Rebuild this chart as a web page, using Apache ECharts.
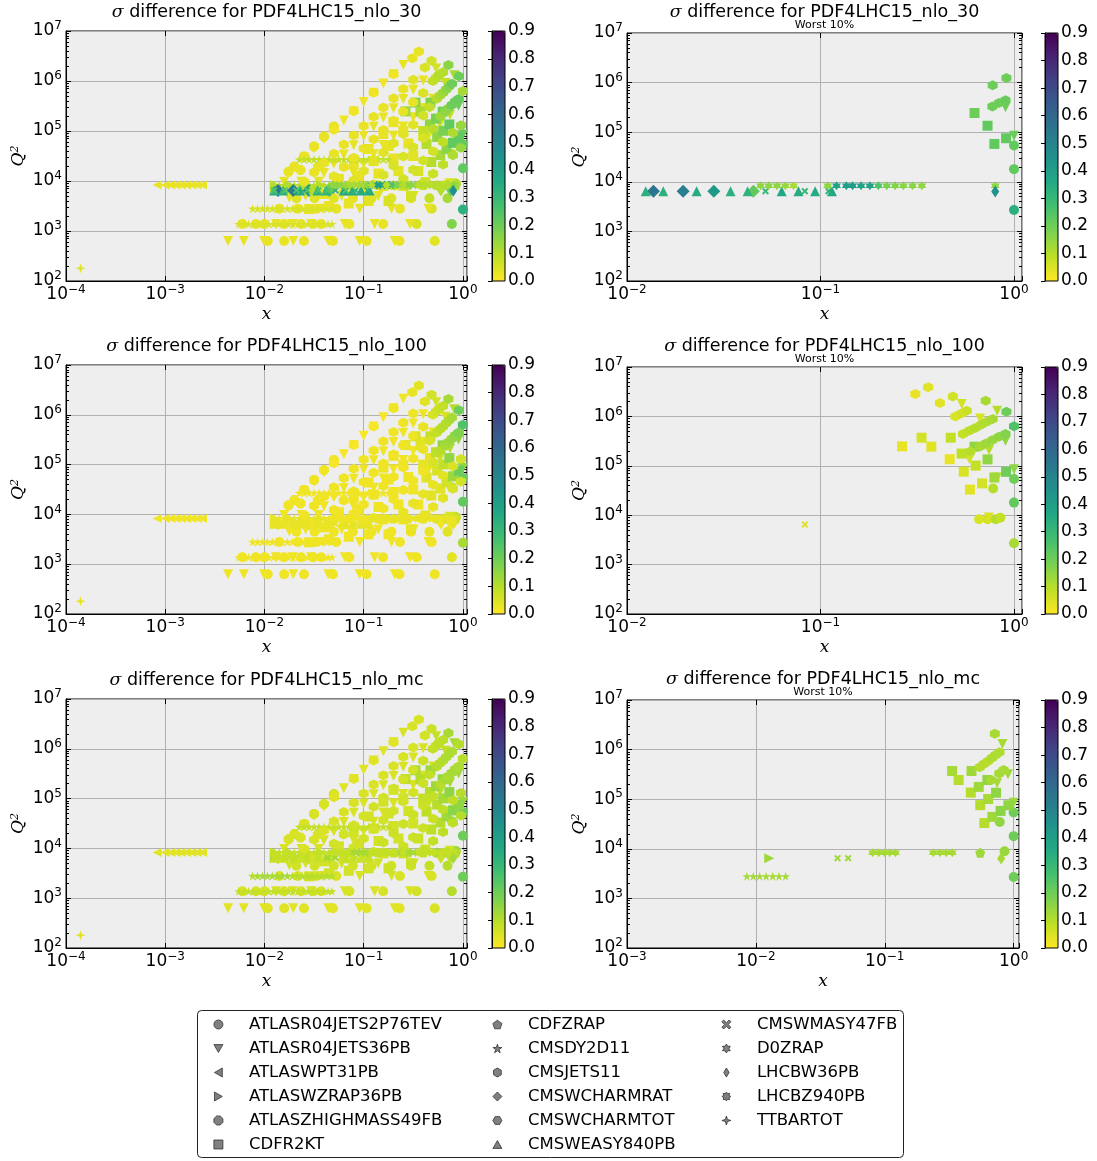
<!DOCTYPE html>
<html lang="en">
<head>
<meta charset="UTF-8">
<title>sigma difference</title>
<script src="https://cdn.jsdelivr.net/npm/echarts@6/dist/echarts.min.js"></script>
<style>
  body { margin: 0; background: #fff; }
  #chart { width: 1097px; height: 1161px; }
</style>
</head>
<body>
<div id="chart"></div>
<script>
// rows of the full-sample panels: [x, Q2, diff nlo_30, diff nlo_100, diff nlo_mc]
var ATLASR04JETS2P76TEV = [
  [0.0108, 630, .03, .02, .04], [0.0158, 630, .03, .02, .04], [0.025, 630, .03, .02, .04], [0.049, 630, .03, .02, .04],
  [0.107, 630, .03, .02, .04], [0.23, 630, .03, .02, .04], [0.52, 630, .04, .02, .05],
  [0.006, 1380, .03, .02, .05], [0.0082, 1380, .03, .02, .05], [0.01, 1380, .03, .02, .05], [0.0158, 1380, .03, .02, .05],
  [0.0234, 1380, .03, .02, .05], [0.0308, 1380, .03, .02, .05], [0.0373, 1380, .03, .02, .05], [0.0718, 1380, .03, .02, .05],
  [0.157, 1380, .03, .02, .05], [0.342, 1380, .05, .02, .06], [0.774, 1380, .17, .04, .10],
  [0.0141, 2800, .03, .02, .05], [0.0217, 2800, .03, .02, .05], [0.0333, 2800, .03, .02, .05], [0.053, 2800, .03, .02, .05],
  [0.232, 2800, .03, .02, .05], [0.485, 2800, .05, .02, .05],
  [0.021, 4500, .04, .02, .06], [0.032, 4500, .04, .02, .06], [0.05, 4500, .04, .02, .06], [0.078, 4500, .04, .02, .06],
  [0.12, 4500, .04, .02, .06], [0.19, 4500, .04, .02, .06], [0.3, 4500, .04, .02, .06], [0.46, 4500, .08, .03, .08],
  [0.7, 4500, .12, .04, .10],
  [1.0, 2700, .33, .12, .20], [1.0, 18000, .22, .22, .20], [1.0, 54000, .22, .20, .20], [0.78, 34700, .08, .10, .15],
  [0.66, 8300, .06, .05, .08], [0.731, 8300, .07, .06, .09], [0.805, 8300, .10, .10, .10], [0.85, 8900, .09, .08, .14]
];
var ATLASR04JETS36PB = [
  [0.0043, 630, .03, .02, .04], [0.0062, 630, .03, .02, .04], [0.0099, 630, .03, .02, .04], [0.0195, 630, .03, .02, .04],
  [0.044, 630, .03, .02, .04], [0.091, 630, .03, .02, .04], [0.205, 630, .03, .02, .04],
  [0.0131, 1380, .03, .02, .05], [0.0193, 1380, .03, .02, .05], [0.0296, 1380, .03, .02, .05], [0.0646, 1380, .03, .02, .05],
  [0.129, 1380, .03, .02, .05], [0.293, 1380, .03, .02, .05],
  [0.039, 2800, .03, .02, .05], [0.0912, 2800, .03, .02, .05], [0.191, 2800, .03, .02, .05], [0.449, 2800, .03, .02, .05],
  [0.0178, 4600, .04, .02, .06], [0.026, 5000, .04, .02, .06], [0.06, 5000, .04, .02, .06], [0.14, 5000, .04, .02, .06],
  [0.32, 5000, .04, .02, .06],
  [0.0158, 9700, .03, .02, .05], [0.0236, 9700, .03, .02, .05], [0.0352, 9700, .03, .02, .05],
  [0.0251, 29500, .02, .01, .04], [0.0316, 45200, .02, .01, .04], [0.0398, 69200, .02, .01, .04], [0.0501, 106000, .02, .01, .04],
  [0.0631, 162000, .02, .01, .04], [0.0794, 248000, .02, .01, .04], [0.1, 380000, .02, .01, .04], [0.126, 582000, .02, .01, .04],
  [0.158, 891000, .02, .01, .04], [0.2, 1360000, .03, .02, .05], [0.251, 2090000, .03, .02, .05],
  [0.0398, 14500, .03, .02, .05], [0.0501, 22100, .03, .02, .05], [0.0631, 33900, .03, .02, .05], [0.0794, 51900, .03, .02, .05],
  [0.1, 79400, .03, .02, .05], [0.126, 122000, .03, .02, .05], [0.158, 186000, .03, .02, .05], [0.2, 285000, .03, .02, .05],
  [0.251, 437000, .03, .02, .05], [0.316, 668000, .03, .02, .05], [0.398, 1020000, .03, .02, .05], [0.537, 1780000, .06, .06, .08],
  [0.0794, 14600, .03, .02, .05], [0.1, 22400, .03, .02, .05], [0.126, 34300, .03, .02, .05], [0.158, 52500, .03, .02, .05],
  [0.2, 80400, .03, .02, .05], [0.251, 123000, .03, .02, .05], [0.316, 188000, .03, .02, .05], [0.398, 288000, .03, .02, .05],
  [0.501, 442000, .03, .02, .05], [0.668, 910000, .08, .05, .08], [0.818, 1300000, .12, .10, .12],
  [0.2, 25000, .04, .02, .06], [0.3, 45000, .04, .02, .06], [0.45, 80000, .05, .03, .07], [0.589, 136000, .05, .06, .08],
  [0.743, 210000, .08, .10, .12], [0.904, 320000, .20, .15, .13], [1.0, 85000, .20, .15, .13], [0.818, 58000, .10, .10, .10],
  [0.74, 9000, .05, .05, .06]
];
var ATLASWPT31PB = [
  [0.00083, 8300, .03, .02, .04], [0.001, 8300, .03, .02, .04], [0.00114, 8300, .03, .02, .04], [0.00129, 8300, .03, .02, .04],
  [0.00145, 8300, .03, .02, .04], [0.00164, 8300, .03, .02, .04], [0.00186, 8300, .03, .02, .04], [0.0021, 8300, .03, .02, .04],
  [0.00238, 8300, .03, .02, .04]
];
var ATLASWZRAP36PB = [
  [0.0127, 6464, .10, .03, .13], [0.017, 6464, .10, .03, .08], [0.024, 6464, .10, .03, .08], [0.034, 6464, .10, .03, .08],
  [0.048, 6464, .10, .03, .08], [0.0127, 8281, .10, .03, .08], [0.018, 8281, .10, .03, .08], [0.026, 8281, .10, .03, .08],
  [0.037, 8281, .10, .03, .08]
];
var ATLASZHIGHMASS49FB = [
  [0.0175, 15300, .03, .02, .05], [0.0231, 16600, .03, .02, .05], [0.0346, 19300, .03, .02, .05], [0.02, 19500, .03, .02, .05],
  [0.0251, 30900, .03, .02, .05], [0.0316, 49000, .03, .02, .05], [0.0398, 77600, .03, .02, .05], [0.0501, 123000, .03, .02, .05]
];
var CDFR2KT = [
  [0.264, 247000, .14, .03, .09], [0.333, 370000, .17, .06, .12], [0.374, 244000, .12, .04, .10], [0.471, 370000, .17, .08, .13],
  [0.465, 136000, .15, .03, .10], [0.536, 177000, .18, .09, .13], [0.55, 76000, .15, .05, .10], [0.592, 33000, .12, .04, .10],
  [0.625, 244000, .20, .15, .15], [0.634, 101000, .18, .08, .12], [0.684, 44000, .16, .06, .13], [0.73, 135000, .22, .15, .15],
  [0.792, 58000, .22, .13, .16], [0.91, 75500, .22, .20, .15],
  [0.0282, 2750, .03, .02, .06], [0.0398, 5500, .03, .02, .06], [0.0562, 11000, .03, .02, .06], [0.0794, 21900, .03, .02, .06],
  [0.112, 43700, .03, .02, .06], [0.158, 87100, .03, .02, .06], [0.2, 150000, .03, .02, .06],
  [0.0447, 3160, .03, .02, .06], [0.0631, 6310, .03, .02, .06], [0.0891, 12600, .03, .02, .06], [0.126, 25100, .03, .02, .06],
  [0.178, 50100, .03, .02, .06], [0.251, 100000, .03, .02, .06],
  [0.0708, 3550, .03, .02, .06], [0.1, 7080, .03, .02, .06], [0.141, 14100, .03, .02, .06], [0.2, 28200, .03, .02, .06],
  [0.282, 56200, .03, .02, .06], [0.398, 100000, .08, .03, .08],
  [0.112, 3980, .04, .02, .06], [0.158, 7940, .04, .02, .06], [0.224, 15800, .04, .02, .06], [0.316, 31600, .04, .02, .06],
  [0.43, 55000, .10, .04, .09],
  [0.178, 3980, .05, .02, .07], [0.251, 7940, .05, .02, .07], [0.355, 15800, .05, .02, .07], [0.48, 24000, .10, .04, .09],
  [0.3, 5000, .06, .03, .07], [0.42, 9500, .06, .03, .07]
];
var CDFZRAP = [
  [0.05, 8281, .08, .03, .08], [0.07, 8281, .08, .03, .08], [0.1, 8281, .08, .03, .08], [0.14, 8281, .08, .03, .08],
  [0.2, 8281, .08, .03, .08], [0.28, 8281, .08, .03, .08], [0.4, 8281, .08, .03, .08], [0.55, 8281, .10, .05, .13],
  [0.7, 8281, .12, .06, .10], [0.85, 8281, .12, .06, .10]
];
var CMSDY2D11 = [
  [0.0055, 1380, .05, .02, .08], [0.00617, 1380, .05, .02, .08], [0.00692, 1380, .05, .02, .08], [0.00776, 1380, .05, .02, .08],
  [0.00871, 1380, .05, .02, .08], [0.00977, 1380, .05, .02, .08], [0.011, 1380, .05, .02, .08], [0.0123, 1380, .05, .02, .08],
  [0.0138, 1380, .05, .02, .08], [0.0155, 1380, .05, .02, .08], [0.0174, 1380, .05, .02, .08], [0.0195, 1380, .05, .02, .08],
  [0.0219, 1380, .05, .02, .08], [0.0245, 1380, .05, .02, .08], [0.0275, 1380, .05, .02, .08], [0.0309, 1380, .05, .02, .08],
  [0.0347, 1380, .05, .02, .08], [0.0389, 1380, .05, .02, .08], [0.0437, 1380, .05, .02, .08], [0.0479, 1380, .05, .02, .08],
  [0.00759, 2800, .05, .02, .10], [0.00851, 2800, .05, .02, .12], [0.00955, 2800, .05, .02, .12], [0.0107, 2800, .05, .02, .12],
  [0.012, 2800, .05, .02, .12], [0.0135, 2800, .05, .02, .12], [0.0151, 2800, .05, .02, .12], [0.017, 2800, .05, .02, .12],
  [0.0191, 2800, .05, .02, .10], [0.0214, 2800, .05, .02, .10], [0.024, 2800, .05, .02, .10], [0.0269, 2800, .05, .02, .10],
  [0.0302, 2800, .05, .02, .10], [0.0339, 2800, .05, .02, .10], [0.038, 2800, .05, .02, .10], [0.0427, 2800, .05, .02, .10],
  [0.0479, 2800, .05, .02, .10],
  [0.0224, 27000, .08, .02, .08], [0.0251, 27000, .08, .02, .08], [0.0282, 27000, .08, .02, .08], [0.0316, 27000, .08, .02, .08],
  [0.0355, 27000, .08, .02, .08], [0.0398, 27000, .08, .02, .08], [0.0447, 27000, .08, .02, .08], [0.0501, 27000, .08, .02, .08],
  [0.0562, 27000, .08, .02, .08], [0.0631, 27000, .08, .02, .08], [0.0708, 27000, .08, .02, .08], [0.0794, 27000, .08, .02, .08],
  [0.0891, 27000, .08, .02, .08], [0.1, 27000, .08, .02, .08], [0.112, 27000, .08, .02, .08], [0.126, 27000, .08, .02, .08],
  [0.141, 27000, .08, .02, .08], [0.158, 27000, .08, .02, .08], [0.178, 27000, .08, .02, .08],
  [0.0126, 8300, .10, .03, .08], [0.0141, 8300, .10, .03, .08], [0.0158, 8300, .10, .03, .08], [0.0178, 8300, .10, .03, .08],
  [0.02, 8300, .10, .03, .08], [0.0224, 8300, .10, .03, .08], [0.0251, 8300, .10, .03, .08], [0.0282, 8300, .10, .03, .08],
  [0.0316, 8300, .10, .03, .08], [0.0355, 8300, .10, .03, .08], [0.0398, 8300, .10, .03, .08], [0.0447, 8300, .10, .03, .08]
];
var CMSJETS11 = [
  [0.0501, 106000, .02, .01, .04], [0.0794, 248000, .02, .01, .04], [0.126, 582000, .02, .01, .04], [0.2, 1360000, .02, .02, .04],
  [0.309, 2840000, .03, .03, .05], [0.36, 3870000, .03, .04, .05],
  [0.0251, 9770, .03, .02, .05], [0.0316, 15000, .03, .02, .05], [0.0398, 22900, .03, .02, .05], [0.0501, 35100, .03, .02, .05],
  [0.0631, 53700, .03, .02, .05], [0.0794, 82200, .03, .02, .05], [0.1, 126000, .03, .02, .05], [0.126, 193000, .03, .02, .05],
  [0.158, 295000, .03, .02, .05], [0.2, 452000, .03, .02, .05], [0.251, 692000, .03, .02, .05], [0.316, 1060000, .04, .02, .05],
  [0.414, 1860000, .05, .04, .06], [0.483, 2540000, .06, .06, .07],
  [0.0501, 12400, .03, .02, .06], [0.0631, 19100, .03, .02, .06], [0.0794, 29200, .03, .02, .06], [0.1, 44700, .03, .02, .06],
  [0.126, 68400, .03, .02, .06], [0.158, 105000, .03, .02, .06], [0.2, 160000, .03, .02, .06], [0.251, 245000, .03, .02, .06],
  [0.316, 376000, .03, .02, .06], [0.398, 575000, .05, .03, .07], [0.498, 1000000, .08, .05, .08], [0.535, 1150000, .09, .06, .08],
  [0.57, 1300000, .10, .07, .09], [0.631, 1500000, .10, .08, .09], [0.714, 2080000, .16, .12, .12],
  [0.0794, 10400, .04, .02, .06], [0.1, 15800, .04, .02, .06], [0.126, 24300, .04, .02, .06], [0.158, 37200, .04, .02, .06],
  [0.2, 56900, .04, .02, .06], [0.251, 87100, .04, .02, .06], [0.316, 133000, .04, .02, .06], [0.398, 204000, .06, .03, .07],
  [0.46, 300000, .08, .05, .08], [0.545, 440000, .10, .08, .10], [0.587, 512000, .12, .09, .10], [0.63, 580000, .13, .10, .10],
  [0.677, 676000, .15, .10, .11], [0.723, 776000, .17, .11, .11], [0.776, 883000, .20, .12, .11], [0.914, 1240000, .20, .20, .10],
  [0.126, 8610, .05, .02, .07], [0.158, 13200, .05, .02, .07], [0.2, 20200, .05, .02, .07], [0.251, 30900, .05, .02, .07],
  [0.316, 47300, .05, .02, .07], [0.398, 72400, .05, .02, .07], [0.501, 111000, .10, .05, .08], [0.594, 195000, .13, .10, .10],
  [0.668, 245000, .15, .12, .12], [0.716, 284000, .16, .13, .11], [0.773, 331000, .20, .14, .12], [0.836, 387000, .20, .15, .12],
  [0.904, 439000, .21, .17, .11], [1.0, 630000, .12, .25, .10],
  [0.251, 11000, .06, .03, .07], [0.316, 16800, .06, .03, .07], [0.398, 25700, .06, .03, .07], [0.501, 39400, .06, .03, .07],
  [0.631, 60300, .09, .04, .09], [0.794, 92300, .11, .05, .09], [0.955, 130000, .14, .06, .10],
  [0.398, 9120, .07, .03, .08], [0.501, 14000, .07, .03, .08], [0.631, 21400, .09, .04, .09], [0.794, 32700, .11, .05, .09],
  [0.955, 46000, .14, .06, .10]
];
var CMSWCHARMRAT = [
  [0.0137, 6464, .55, .03, .08], [0.0195, 6464, .52, .03, .08], [0.0281, 6464, .42, .03, .08], [0.045, 6464, .22, .03, .08]
];
var CMSWCHARMTOT = [
  [0.03, 6464, .10, .02, .06]
];
var CMSWEASY840PB = [
  [0.0125, 6464, .33, .03, .07], [0.0154, 6464, .33, .03, .07], [0.0229, 6464, .35, .03, .07], [0.0343, 6464, .33, .03, .07],
  [0.042, 6464, .32, .03, .07], [0.063, 6464, .36, .03, .07], [0.0769, 6464, .35, .03, .07], [0.0938, 6464, .35, .03, .07],
  [0.1146, 6464, .36, .03, .07]
];
var CMSWMASY47FB = [
  [0.0125, 6464, .25, .03, .08], [0.016, 6464, .25, .03, .08], [0.021, 6464, .25, .03, .08], [0.027, 6464, .25, .03, .08],
  [0.035, 6464, .25, .03, .08], [0.043, 6464, .25, .03, .13], [0.052, 6464, .30, .03, .13], [0.066, 6464, .25, .03, .08],
  [0.083, 6464, .30, .04, .08], [0.11, 6464, .32, .03, .08]
];
var D0ZRAP = [
  [0.049, 8281, .15, .02, .08], [0.054, 8281, .15, .02, .08], [0.0596, 8281, .15, .02, .08], [0.0658, 8281, .14, .02, .08],
  [0.0726, 8281, .12, .02, .08], [0.0805, 8281, .12, .02, .12], [0.0898, 8281, .12, .02, .12], [0.0996, 8281, .12, .02, .12],
  [0.109, 8281, .15, .02, .12], [0.121, 8281, .38, .03, .12], [0.136, 8281, .40, .03, .08], [0.1465, 8281, .40, .03, .08],
  [0.162, 8281, .38, .03, .08], [0.18, 8281, .38, .03, .08], [0.199, 8281, .25, .03, .08], [0.22, 8281, .18, .03, .08],
  [0.238, 8281, .17, .03, .12], [0.268, 8281, .16, .03, .12], [0.299, 8281, .16, .03, .12], [0.334, 8281, .15, .03, .12],
  [0.37, 8281, .10, .03, .08], [0.41, 8281, .10, .03, .08], [0.46, 8281, .10, .03, .08], [0.52, 8281, .10, .03, .08],
  [0.6, 8281, .10, .03, .08], [0.7, 8281, .10, .03, .08], [0.8, 8281, .15, .03, .08]
];
var LHCBW36PB = [
  [0.6, 6464, .10, .02, .07], [0.75, 6400, .20, .02, .08], [0.8, 6400, .45, .03, .12]
];
var LHCBZ940PB = [
  [0.12, 8281, .10, .03, .08], [0.17, 8281, .10, .03, .08], [0.25, 8281, .10, .03, .08], [0.36, 8281, .10, .03, .08],
  [0.5, 8281, .10, .03, .08], [0.7, 8281, .10, .03, .08]
];
var TTBARTOT = [
  [0.00014, 180, .04, .03, .04]
];

// worst 10% panels: [dataset, x, Q2, diff]
var worst30 = [
  ['CMSWEASY840PB', 0.0125, 6464, .33], ['CMSWEASY840PB', 0.0154, 6464, .33], ['CMSWEASY840PB', 0.0229, 6464, .35],
  ['CMSWEASY840PB', 0.0343, 6464, .33], ['CMSWEASY840PB', 0.042, 6464, .32], ['CMSWEASY840PB', 0.063, 6464, .36],
  ['CMSWEASY840PB', 0.0769, 6464, .35], ['CMSWEASY840PB', 0.0938, 6464, .35], ['CMSWEASY840PB', 0.1146, 6464, .36],
  ['CMSWCHARMRAT', 0.0137, 6464, .55], ['CMSWCHARMRAT', 0.0195, 6464, .52], ['CMSWCHARMRAT', 0.0281, 6464, .42],
  ['CMSWCHARMRAT', 0.045, 6464, .22],
  ['CMSWMASY47FB', 0.052, 6464, .30], ['CMSWMASY47FB', 0.083, 6464, .30], ['CMSWMASY47FB', 0.11, 6464, .32],
  ['D0ZRAP', 0.049, 8281, .15], ['D0ZRAP', 0.054, 8281, .15], ['D0ZRAP', 0.0596, 8281, .15], ['D0ZRAP', 0.0658, 8281, .14],
  ['D0ZRAP', 0.0726, 8281, .12], ['D0ZRAP', 0.109, 8281, .15], ['D0ZRAP', 0.121, 8281, .38], ['D0ZRAP', 0.136, 8281, .40],
  ['D0ZRAP', 0.1465, 8281, .40], ['D0ZRAP', 0.162, 8281, .38], ['D0ZRAP', 0.18, 8281, .38], ['D0ZRAP', 0.199, 8281, .25],
  ['D0ZRAP', 0.22, 8281, .18], ['D0ZRAP', 0.243, 8281, .17], ['D0ZRAP', 0.268, 8281, .16], ['D0ZRAP', 0.299, 8281, .16],
  ['D0ZRAP', 0.334, 8281, .15], ['D0ZRAP', 0.8, 8281, .15],
  ['CMSJETS11', 0.776, 883000, .20], ['CMSJETS11', 0.914, 1240000, .20], ['CMSJETS11', 0.773, 331000, .20],
  ['CMSJETS11', 0.836, 387000, .20], ['CMSJETS11', 0.904, 439000, .21],
  ['ATLASR04JETS2P76TEV', 1.0, 54000, .22], ['ATLASR04JETS2P76TEV', 1.0, 18000, .22], ['ATLASR04JETS2P76TEV', 1.0, 2700, .33],
  ['CDFR2KT', 0.625, 244000, .20], ['CDFR2KT', 0.73, 135000, .22], ['CDFR2KT', 0.792, 58000, .22], ['CDFR2KT', 0.91, 75500, .22],
  ['ATLASR04JETS36PB', 0.904, 320000, .20], ['ATLASR04JETS36PB', 1.0, 85000, .20],
  ['LHCBW36PB', 0.8, 6400, .45]
];
var worst100 = [
  ['CDFR2KT', 0.264, 247000, .03], ['CDFR2KT', 0.333, 370000, .06], ['CDFR2KT', 0.374, 244000, .04], ['CDFR2KT', 0.471, 370000, .08],
  ['CDFR2KT', 0.465, 136000, .03], ['CDFR2KT', 0.536, 177000, .09], ['CDFR2KT', 0.55, 76000, .05], ['CDFR2KT', 0.592, 33000, .04],
  ['CDFR2KT', 0.625, 244000, .15], ['CDFR2KT', 0.634, 101000, .08], ['CDFR2KT', 0.684, 44000, .06], ['CDFR2KT', 0.73, 135000, .15],
  ['CDFR2KT', 0.792, 58000, .13], ['CDFR2KT', 0.91, 75500, .20],
  ['CMSJETS11', 0.309, 2840000, .03], ['CMSJETS11', 0.36, 3870000, .04], ['CMSJETS11', 0.414, 1860000, .04],
  ['CMSJETS11', 0.483, 2540000, .06], ['CMSJETS11', 0.714, 2080000, .12], ['CMSJETS11', 0.914, 1240000, .20],
  ['CMSJETS11', 1.0, 630000, .25], ['CMSJETS11', 0.498, 1000000, .05], ['CMSJETS11', 0.535, 1150000, .06],
  ['CMSJETS11', 0.57, 1300000, .07], ['CMSJETS11', 0.545, 440000, .08], ['CMSJETS11', 0.587, 512000, .09],
  ['CMSJETS11', 0.63, 580000, .10], ['CMSJETS11', 0.677, 676000, .10], ['CMSJETS11', 0.723, 776000, .11],
  ['CMSJETS11', 0.776, 883000, .12], ['CMSJETS11', 0.594, 195000, .10], ['CMSJETS11', 0.668, 245000, .12],
  ['CMSJETS11', 0.716, 284000, .13], ['CMSJETS11', 0.773, 331000, .14], ['CMSJETS11', 0.836, 387000, .15],
  ['CMSJETS11', 0.904, 439000, .17],
  ['ATLASR04JETS36PB', 0.537, 1780000, .06], ['ATLASR04JETS36PB', 0.668, 910000, .05], ['ATLASR04JETS36PB', 0.818, 1300000, .10],
  ['ATLASR04JETS36PB', 0.743, 210000, .10], ['ATLASR04JETS36PB', 0.904, 320000, .15], ['ATLASR04JETS36PB', 0.589, 136000, .06],
  ['ATLASR04JETS36PB', 1.0, 85000, .15], ['ATLASR04JETS36PB', 0.818, 58000, .10], ['ATLASR04JETS36PB', 0.74, 9000, .05],
  ['ATLASR04JETS2P76TEV', 0.78, 34700, .10], ['ATLASR04JETS2P76TEV', 1.0, 54000, .20], ['ATLASR04JETS2P76TEV', 1.0, 18000, .22],
  ['ATLASR04JETS2P76TEV', 1.0, 2700, .12], ['ATLASR04JETS2P76TEV', 0.66, 8300, .05], ['ATLASR04JETS2P76TEV', 0.731, 8300, .06],
  ['ATLASR04JETS2P76TEV', 0.805, 8300, .10], ['ATLASR04JETS2P76TEV', 0.85, 8900, .08],
  ['CMSWMASY47FB', 0.083, 6464, .04]
];
var worstMc = [
  ['ATLASWZRAP36PB', 0.0127, 6464, .13],
  ['CMSDY2D11', 0.00851, 2800, .12], ['CMSDY2D11', 0.00955, 2800, .12], ['CMSDY2D11', 0.0107, 2800, .12],
  ['CMSDY2D11', 0.012, 2800, .12], ['CMSDY2D11', 0.0135, 2800, .12], ['CMSDY2D11', 0.0151, 2800, .12], ['CMSDY2D11', 0.017, 2800, .12],
  ['CMSWMASY47FB', 0.043, 6464, .13], ['CMSWMASY47FB', 0.052, 6464, .13],
  ['D0ZRAP', 0.0805, 8281, .12], ['D0ZRAP', 0.0898, 8281, .12], ['D0ZRAP', 0.0996, 8281, .12], ['D0ZRAP', 0.109, 8281, .12],
  ['D0ZRAP', 0.121, 8281, .12], ['D0ZRAP', 0.238, 8281, .12], ['D0ZRAP', 0.268, 8281, .12], ['D0ZRAP', 0.299, 8281, .12],
  ['D0ZRAP', 0.334, 8281, .12],
  ['CDFZRAP', 0.55, 8281, .13],
  ['ATLASR04JETS2P76TEV', 0.85, 8900, .14], ['ATLASR04JETS2P76TEV', 1.0, 54000, .20], ['ATLASR04JETS2P76TEV', 1.0, 18000, .20],
  ['ATLASR04JETS2P76TEV', 1.0, 2700, .20], ['ATLASR04JETS2P76TEV', 0.78, 34700, .15],
  ['LHCBW36PB', 0.8, 6400, .12],
  ['CMSJETS11', 0.714, 2080000, .12], ['CMSJETS11', 0.545, 440000, .10], ['CMSJETS11', 0.587, 512000, .10],
  ['CMSJETS11', 0.63, 580000, .10], ['CMSJETS11', 0.677, 676000, .11], ['CMSJETS11', 0.723, 776000, .11],
  ['CMSJETS11', 0.776, 883000, .11], ['CMSJETS11', 0.668, 245000, .12], ['CMSJETS11', 0.773, 331000, .12],
  ['CMSJETS11', 0.836, 387000, .12],
  ['ATLASR04JETS36PB', 0.818, 1300000, .12], ['ATLASR04JETS36PB', 0.904, 320000, .13], ['ATLASR04JETS36PB', 0.743, 210000, .12],
  ['ATLASR04JETS36PB', 1.0, 85000, .13],
  ['CDFR2KT', 0.333, 370000, .12], ['CDFR2KT', 0.374, 244000, .10], ['CDFR2KT', 0.471, 370000, .13], ['CDFR2KT', 0.465, 136000, .10],
  ['CDFR2KT', 0.536, 177000, .13], ['CDFR2KT', 0.55, 76000, .10], ['CDFR2KT', 0.592, 33000, .10], ['CDFR2KT', 0.625, 244000, .15],
  ['CDFR2KT', 0.634, 101000, .12], ['CDFR2KT', 0.684, 44000, .13], ['CDFR2KT', 0.73, 135000, .15], ['CDFR2KT', 0.792, 58000, .16],
  ['CDFR2KT', 0.91, 75500, .15]
];

var names = ['ATLASR04JETS2P76TEV', 'ATLASR04JETS36PB', 'ATLASWPT31PB', 'ATLASWZRAP36PB', 'ATLASZHIGHMASS49FB', 'CDFR2KT',
  'CDFZRAP', 'CMSDY2D11', 'CMSJETS11', 'CMSWCHARMRAT', 'CMSWCHARMTOT', 'CMSWEASY840PB', 'CMSWMASY47FB', 'D0ZRAP',
  'LHCBW36PB', 'LHCBZ940PB', 'TTBARTOT'];
var allSets = [ATLASR04JETS2P76TEV, ATLASR04JETS36PB, ATLASWPT31PB, ATLASWZRAP36PB, ATLASZHIGHMASS49FB, CDFR2KT,
  CDFZRAP, CMSDY2D11, CMSJETS11, CMSWCHARMRAT, CMSWCHARMTOT, CMSWEASY840PB, CMSWMASY47FB, D0ZRAP,
  LHCBW36PB, LHCBZ940PB, TTBARTOT];

// marker shapes (matplotlib-like)
var TRI_DOWN = 'path://M0,0L100,0L50,87Z';
var TRI_LEFT = 'path://M87,0L87,100L0,50Z';
var TRI_RIGHT = 'path://M0,0L0,100L87,50Z';
var TRI_UP = 'path://M50,0L100,87L0,87Z';
var PENTA = 'path://M50,0L97.6,34.5L79.4,90.5L20.6,90.5L2.4,34.5Z';
var HEXA = 'path://M50,0L93.3,25L93.3,75L50,100L6.7,75L6.7,25Z';
var HEXA_FLAT = 'path://M25,6.7L75,6.7L100,50L75,93.3L25,93.3L0,50Z';
var OCTA = 'path://M30,0L70,0L100,30L100,70L70,100L30,100L0,70L0,30Z';
var STAR5 = 'path://M50,0L61.2,34.6L97.6,34.5L68.1,55.9L79.4,90.5L50,69L20.6,90.5L31.9,55.9L2.4,34.5L38.8,34.6Z';
var STAR6 = 'path://M50,0L64.4,25L93.3,25L78.9,50L93.3,75L64.4,75L50,100L35.6,75L6.7,75L21.1,50L6.7,25L35.6,25Z';
var STAR8 = 'path://M50,0L62.2,20.4L85.4,14.6L79.6,37.8L100,50L79.6,62.2L85.4,85.4L62.2,79.6L50,100L37.8,79.6L14.6,85.4L20.4,62.2L0,50L20.4,37.8L14.6,14.6L37.8,20.4Z';
var XMARK = 'path://M0,20L20,0L50,30L80,0L100,20L70,50L100,80L80,100L50,70L20,100L0,80L30,50Z';
var STAR4 = 'path://M50,0L62,38L100,50L62,62L50,100L38,62L0,50L38,38Z';
var THIN_D = 'path://M30,0L60,50L30,100L0,50Z';

var marks = {
  ATLASR04JETS2P76TEV: ['circle', 10], ATLASR04JETS36PB: [TRI_DOWN, 10], ATLASWPT31PB: [TRI_LEFT, 9],
  ATLASWZRAP36PB: [TRI_RIGHT, 10], ATLASZHIGHMASS49FB: [OCTA, 10], CDFR2KT: ['rect', 10], CDFZRAP: [PENTA, 10],
  CMSDY2D11: [STAR5, 9], CMSJETS11: [HEXA, 10], CMSWCHARMRAT: ['diamond', 13], CMSWCHARMTOT: [HEXA_FLAT, 9],
  CMSWEASY840PB: [TRI_UP, 10], CMSWMASY47FB: [XMARK, 7], D0ZRAP: [STAR6, 9], LHCBW36PB: [THIN_D, [8, 12]],
  LHCBZ940PB: [STAR8, 9], TTBARTOT: [STAR4, 10]
};

var viridisR = ['#fde725', '#bddf26', '#7ad151', '#44bf70', '#22a884', '#21918c', '#2a788e', '#355f8d', '#414487', '#482475', '#440154'];

var panels = [
  { col: 2, title: 'PDF4LHC15_nlo_30', rect: [66, 31, 401, 250], xmin: 1e-4, cb: 492 },
  { rows: worst30, title: 'PDF4LHC15_nlo_30', rect: [627, 33, 395, 248], xmin: 1e-2, cb: 1045 },
  { col: 3, title: 'PDF4LHC15_nlo_100', rect: [66, 365, 401, 249], xmin: 1e-4, cb: 492 },
  { rows: worst100, title: 'PDF4LHC15_nlo_100', rect: [627, 367, 395, 247], xmin: 1e-2, cb: 1045 },
  { col: 4, title: 'PDF4LHC15_nlo_mc', rect: [66, 699, 401, 249], xmin: 1e-4, cb: 492 },
  { rows: worstMc, title: 'PDF4LHC15_nlo_mc', rect: [627, 700, 392, 248], xmin: 1e-3, cb: 1045 }
];

function powLabel(v) {
  var e = Math.log10(v);
  var r = Math.round(e);
  if (Math.abs(e - r) > 1e-6) return '';
  return '{b|10}{s|' + (r < 0 ? '\u2212' + (-r) : r) + '}';
}
var powRich = {
  b: { fontSize: 17, fontFamily: 'DejaVu Sans', color: '#000', lineHeight: 22 },
  s: { fontSize: 12, fontFamily: 'DejaVu Sans', color: '#000', verticalAlign: 'top', lineHeight: 13 }
};

var grids = [], xAxes = [], yAxes = [], series = [], visualMaps = [], graphics = [];

panels.forEach(function (p, i) {
  var r = p.rect;
  grids.push({ left: r[0], top: r[1], width: r[2], height: r[3], show: true, backgroundColor: '#eeeeee',
    borderColor: '#000', borderWidth: 1, containLabel: false, outerBoundsMode: 'none' });
  xAxes.push({
    type: 'log', logBase: 10, gridIndex: i, min: p.xmin, max: 1.1,
    axisLine: { show: true, onZero: false, lineStyle: { color: '#000', width: 1 } },
    axisTick: { show: true, inside: true, length: 5, lineStyle: { color: '#000' } },
    splitLine: { show: true, lineStyle: { color: '#b0b0b0', width: 1 } },
    axisLabel: { formatter: powLabel, rich: powRich, margin: 3, showMinLabel: true, showMaxLabel: true },
    name: 'x', nameLocation: 'middle', nameGap: 25,
    nameTextStyle: { fontFamily: 'DejaVu Serif', fontStyle: 'italic', fontSize: 17, color: '#000' }
  });
  yAxes.push({
    type: 'log', logBase: 10, gridIndex: i, min: 100, max: 1e7,
    axisLine: { show: true, onZero: false, lineStyle: { color: '#000', width: 1 } },
    axisTick: { show: true, inside: true, length: 5, lineStyle: { color: '#000' } },
    minorTick: { show: true, splitNumber: 9, length: 3, lineStyle: { color: '#000' } },
    splitLine: { show: true, lineStyle: { color: '#b0b0b0', width: 1 } },
    axisLabel: { formatter: powLabel, rich: powRich, margin: 4, showMinLabel: true, showMaxLabel: true },
    name: 'Q{s|2}', nameLocation: 'middle', nameGap: 39,
    nameTextStyle: { fontFamily: 'DejaVu Serif', fontStyle: 'italic', fontSize: 17, color: '#000',
      rich: { s: { fontFamily: 'DejaVu Serif', fontSize: 11, verticalAlign: 'top', lineHeight: 12 } } }
  });

  var idx = [];
  names.forEach(function (n, k) {
    var data;
    if (p.rows) {
      data = p.rows.filter(function (row) { return row[0] === n; })
        .map(function (row) { return [row[1], row[2], row[3]]; });
    } else {
      data = allSets[k].map(function (row) { return [row[0], row[1], row[p.col]]; });
    }
    idx.push(series.length);
    series.push({
      type: 'scatter', name: n, xAxisIndex: i, yAxisIndex: i, data: data,
      symbol: marks[n][0], symbolSize: marks[n][1], silent: true, animation: false,
      itemStyle: { color: '#808080', opacity: 1 }
    });
  });

  visualMaps.push({
    type: 'continuous', min: 0, max: 0.9, dimension: 2, seriesIndex: idx,
    inRange: { color: viridisR }, orient: 'vertical', left: p.cb, top: r[1],
    itemWidth: 13, itemHeight: r[3], calculable: false, hoverLink: false, padding: 0, text: null
  });

  // titles
  var cx = r[0] + r[2] / 2;
  var ty = p.rows ? r[1] - 21 : r[1] - 19;
  graphics.push({
    type: 'text', x: cx, y: ty, silent: true,
    style: { text: '{g|\u03c3} difference for ' + p.title, fontSize: 17.5, fontFamily: 'DejaVu Sans', fill: '#000',
      align: 'center', verticalAlign: 'middle',
      rich: { g: { fontFamily: 'DejaVu Serif', fontStyle: 'italic', fontSize: 17.5 } } }
  });
  if (p.rows) {
    graphics.push({
      type: 'text', x: cx, y: r[1] - 8, silent: true,
      style: { text: 'Worst 10%', fontSize: 11, fontFamily: 'DejaVu Sans', fill: '#000', align: 'center', verticalAlign: 'middle' }
    });
  }
});

// colorbar axes
panels.forEach(function (p, i) {
  var r = p.rect;
  var gi = grids.length;
  grids.push({ left: p.cb, top: r[1], width: 13, height: r[3], show: true, backgroundColor: 'transparent',
    borderColor: '#000', borderWidth: 1, z: 10, containLabel: false, outerBoundsMode: 'none' });
  xAxes.push({ type: 'value', gridIndex: gi, show: false, min: 0, max: 1 });
  yAxes.push({
    type: 'value', gridIndex: gi, min: 0, max: 0.9, interval: 0.1, position: 'right', z: 10,
    axisLine: { show: true, lineStyle: { color: '#000' } },
    axisTick: { show: true, inside: true, length: 4, lineStyle: { color: '#000' } },
    splitLine: { show: false },
    axisLabel: { margin: 3, fontSize: 17, fontFamily: 'DejaVu Sans', color: '#000',
      formatter: function (v) { return v.toFixed(1); } }
  });
});

// mirrored ticks on the top and right edges of each panel
panels.forEach(function (p, i) {
  xAxes.push({
    type: 'log', logBase: 10, gridIndex: i, min: p.xmin, max: 1.1, position: 'top',
    axisLine: { show: false }, axisLabel: { show: false }, splitLine: { show: false },
    axisTick: { show: true, inside: true, length: 5, lineStyle: { color: '#000' } }
  });
  yAxes.push({
    type: 'log', logBase: 10, gridIndex: i, min: 100, max: 1e7, position: 'right',
    axisLine: { show: false }, axisLabel: { show: false }, splitLine: { show: false },
    axisTick: { show: true, inside: true, length: 5, lineStyle: { color: '#000' } },
    minorTick: { show: true, splitNumber: 9, length: 3, lineStyle: { color: '#000' } }
  });
});

function legendCol(list, left) {
  return {
    orient: 'vertical', left: left, top: 1016, height: 145, padding: 0, itemGap: 7, itemWidth: 9, itemHeight: 9,
    selectedMode: false, symbolKeepAspect: true,
    textStyle: { fontSize: 16.5, fontFamily: 'DejaVu Sans', color: '#000', padding: [0, 0, 0, 21] },
    itemStyle: { color: '#808080', borderColor: '#333', borderWidth: 0.8 },
    data: list.map(function (n) { return { name: n, icon: marks[n][0] }; })
  };
}

graphics.unshift({
  type: 'rect', silent: true, z: -10,
  shape: { x: 197.5, y: 1010.5, width: 706, height: 147, r: 4 },
  style: { fill: '#fff', stroke: '#222', lineWidth: 1 }
});

var chart = echarts.init(document.getElementById('chart'), null, { renderer: 'canvas' });
chart.setOption({
  backgroundColor: '#fff',
  animation: false,
  textStyle: { fontFamily: 'DejaVu Sans' },
  grid: grids,
  xAxis: xAxes,
  yAxis: yAxes,
  visualMap: visualMaps,
  legend: [legendCol(names.slice(0, 6), 213.5), legendCol(names.slice(6, 12), 492.5), legendCol(names.slice(12), 721.5)],
  graphic: graphics,
  series: series
});
</script>
</body>
</html>
